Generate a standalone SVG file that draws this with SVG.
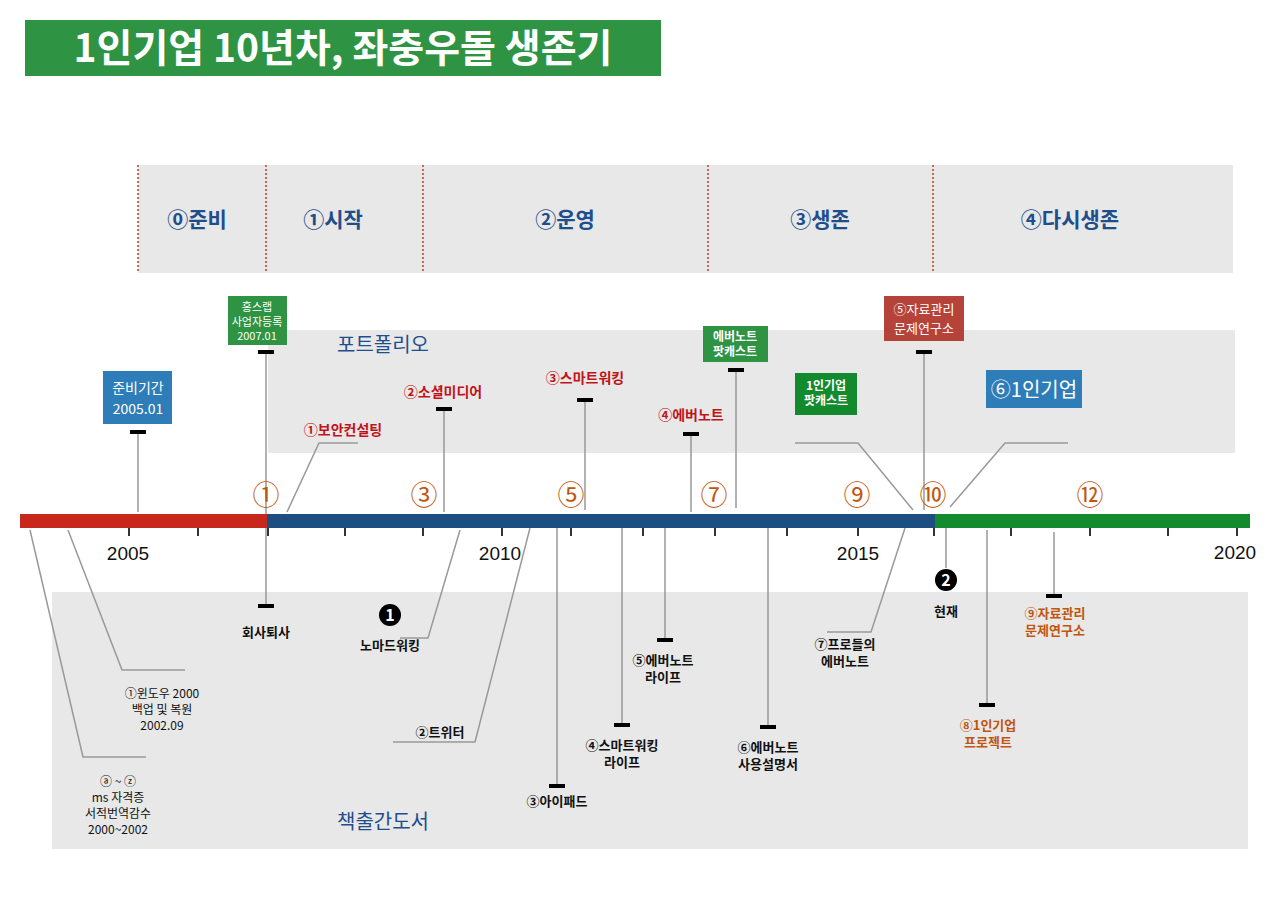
<svg xmlns="http://www.w3.org/2000/svg" width="1280" height="910" viewBox="0 0 1280 910">
<style>
text{font-family:"Noto Sans CJK KR","Noto Sans",sans-serif;text-anchor:middle}
.band{fill:#e8e8e8}
.ph{fill:#1f4e8c;font-size:21px;font-weight:bold}
.sec{fill:#1f4e8c;font-size:20px}
.dash{stroke:#b5432e;stroke-width:1.5;stroke-dasharray:2 2}
.ln{stroke:#999;stroke-width:1.5;fill:none}
.cap{fill:#000}
.num{fill:#c0560f;font-size:27px}
.yr{fill:#111;font-size:19px;font-family:"Liberation Sans",sans-serif}
.tk{stroke:#333;stroke-width:2}
.red{fill:#c0141a;font-size:14px;font-weight:bold}
.blk{fill:#111;font-size:13px;font-weight:bold}
.sm{fill:#111;font-size:12px}
.org{fill:#c0560f;font-size:13px;font-weight:bold}
.bw{fill:#fff;font-size:12px}
.bw11{fill:#fff;font-size:11px}
.bw14{fill:#fff;font-size:14px}
</style>
<rect width="1280" height="910" fill="#fff"/>
<g id="title"><rect x="25" y="20" width="636" height="56" fill="#2e9443"/><text x="343" y="62" fill="#fff" style="font-size:39px;font-weight:bold">1인기업 10년차, 좌충우돌 생존기</text></g>
<g id="phases">
<rect class="band" x="138" y="165" width="1095" height="108"/>
<line class="dash" x1="138" y1="165" x2="138" y2="273"/><line class="dash" x1="266" y1="165" x2="266" y2="273"/><line class="dash" x1="423" y1="165" x2="423" y2="273"/><line class="dash" x1="708" y1="165" x2="708" y2="273"/><line class="dash" x1="933" y1="165" x2="933" y2="273"/>
<text class="ph" x="197" y="227">⓪준비</text><text class="ph" x="333" y="227">①시작</text><text class="ph" x="565" y="227">②운영</text><text class="ph" x="820" y="227">③생존</text><text class="ph" x="1070" y="227">④다시생존</text>
</g>
<g id="portfolio"><rect class="band" x="268" y="330" width="967" height="123"/><text class="sec" x="383" y="352">포트폴리오</text></g>
<g id="books"><rect class="band" x="52" y="592" width="1196" height="257"/><text class="sec" x="383" y="829">책출간도서</text></g>
<g id="connectors">
<line class="ln" x1="138" y1="432" x2="138" y2="512"/>
<line class="ln" x1="266" y1="352" x2="266" y2="606"/>
<polyline class="ln" points="287,512 319,443 358,443"/>
<line class="ln" x1="444" y1="409" x2="444" y2="512"/>
<line class="ln" x1="585" y1="400" x2="585" y2="510"/>
<line class="ln" x1="691" y1="434" x2="691" y2="512"/>
<line class="ln" x1="736" y1="370" x2="736" y2="508"/>
<polyline class="ln" points="795,443 858,443 913,510"/>
<line class="ln" x1="924" y1="352" x2="924" y2="510"/>
<polyline class="ln" points="1068,443 1005,443 950,507"/>
<polyline class="ln" points="460,530 428,638 400,638"/>
<polyline class="ln" points="68,530 122,670 185,670"/>
<polyline class="ln" points="30,530 83,757 146,757"/>
<polyline class="ln" points="530,528 475,742 393,742"/>
<line class="ln" x1="557" y1="527" x2="557" y2="786"/>
<line class="ln" x1="622" y1="527" x2="622" y2="725"/>
<line class="ln" x1="665" y1="527" x2="665" y2="640"/>
<line class="ln" x1="768" y1="527" x2="768" y2="727"/>
<polyline class="ln" points="905,528 871,632 827,632"/>
<line class="ln" x1="946" y1="527" x2="946" y2="568"/>
<line class="ln" x1="987" y1="530" x2="987" y2="705"/>
<line class="ln" x1="1054" y1="532" x2="1054" y2="596"/>
<g class="cap">
<rect x="130" y="430" width="16" height="4"/><rect x="258" y="350" width="16" height="4"/><rect x="436" y="407" width="16" height="4"/><rect x="577" y="398" width="16" height="4"/><rect x="683" y="432" width="16" height="4"/><rect x="728" y="368" width="16" height="4"/><rect x="916" y="350" width="16" height="4"/>
<rect x="258" y="604" width="16" height="4"/><rect x="549" y="784" width="16" height="4"/><rect x="614" y="723" width="16" height="4"/><rect x="657" y="638" width="16" height="4"/><rect x="760" y="725" width="16" height="4"/><rect x="979" y="703" width="16" height="4"/><rect x="1046" y="594" width="16" height="4"/>
</g>
</g>
<g id="timeline">
<rect x="20" y="514" width="247" height="14" fill="#c8281c"/>
<rect x="267" y="514" width="668" height="14" fill="#1d4e82"/>
<rect x="935" y="514" width="315" height="14" fill="#138a2e"/>
<g class="tk"><line x1="129" y1="528" x2="129" y2="536"/><line x1="198" y1="528" x2="198" y2="536"/><line x1="268" y1="528" x2="268" y2="536"/><line x1="345" y1="528" x2="345" y2="536"/><line x1="423" y1="528" x2="423" y2="536"/><line x1="502" y1="528" x2="502" y2="536"/><line x1="571" y1="528" x2="571" y2="536"/><line x1="643" y1="528" x2="643" y2="536"/><line x1="715" y1="528" x2="715" y2="536"/><line x1="787" y1="528" x2="787" y2="536"/><line x1="858" y1="528" x2="858" y2="536"/><line x1="934" y1="528" x2="934" y2="536"/><line x1="1011" y1="528" x2="1011" y2="536"/><line x1="1090" y1="528" x2="1090" y2="536"/><line x1="1168" y1="528" x2="1168" y2="536"/><line x1="1237" y1="528" x2="1237" y2="536"/></g>
<text class="yr" x="128" y="560">2005</text><text class="yr" x="500" y="560">2010</text><text class="yr" x="858" y="560">2015</text><text class="yr" x="1235" y="559">2020</text>
<text class="num" x="266" y="505">①</text><text class="num" x="424" y="505">③</text><text class="num" x="571" y="505">⑤</text><text class="num" x="714" y="505">⑦</text><text class="num" x="857" y="505">⑨</text><text class="num" x="933" y="505">⑩</text><text class="num" x="1090" y="505">⑫</text>
</g>
<g id="n-prep"><rect x="103" y="371" width="69" height="53" fill="#2e7db8"/><text class="bw14" x="138" y="393">준비기간</text><text class="bw14" x="138" y="414">2005.01</text></g>
<g id="n-hong"><rect x="228" y="296" width="59" height="49" fill="#2e9443"/><text class="bw11" x="257" y="311">홍스랩</text><text class="bw11" x="257" y="326">사업자등록</text><text class="bw11" x="257" y="340">2007.01</text></g>
<g id="n-sec"><text class="red" x="343" y="435">①보안컨설팅</text></g>
<g id="n-social"><text class="red" x="443" y="397">②소셜미디어</text></g>
<g id="n-smart"><text class="red" x="585" y="383">③스마트워킹</text></g>
<g id="n-ever"><text class="red" x="691" y="420">④에버노트</text></g>
<g id="n-evpod"><rect x="703" y="326" width="65" height="36" fill="#2e9443"/><text class="bw" x="735" y="341" style="font-weight:bold">에버노트</text><text class="bw" x="735" y="356" style="font-weight:bold">팟캐스트</text></g>
<g id="n-1pod"><rect x="795" y="373" width="62" height="42" fill="#138a2e"/><text class="bw" x="826" y="390" style="font-weight:bold">1인기업</text><text class="bw" x="826" y="405" style="font-weight:bold">팟캐스트</text></g>
<g id="n-lab"><rect x="884" y="296" width="80" height="45" fill="#b5433a"/><text class="bw" x="924" y="314" style="font-size:13px">⑤자료관리</text><text class="bw" x="924" y="333" style="font-size:13px">문제연구소</text></g>
<g id="n-1biz"><rect x="986" y="370" width="96" height="38" fill="#2e7db8"/><text class="bw" x="1034" y="397" style="font-size:20px">⑥1인기업</text></g>
<g id="n-quit"><text class="blk" x="266" y="637">회사퇴사</text></g>
<g id="n-nomad"><circle cx="390" cy="615" r="11" fill="#000"/><text x="390" y="621" fill="#fff" style="font-size:16px;font-weight:bold">1</text><text class="blk" x="390" y="650">노마드워킹</text></g>
<g id="n-win"><text class="sm" x="162" y="698">①윈도우 2000</text><text class="sm" x="162" y="714">백업 및 복원</text><text class="sm" x="162" y="730">2002.09</text></g>
<g id="n-ms"><text class="sm" x="118" y="786">ⓐ ~ ⓩ</text><text class="sm" x="118" y="802">ms 자격증</text><text class="sm" x="118" y="818">서적번역감수</text><text class="sm" x="118" y="834">2000~2002</text></g>
<g id="n-tw"><text class="blk" x="440" y="737">②트위터</text></g>
<g id="n-ipad"><text class="blk" x="557" y="806">③아이패드</text></g>
<g id="n-swl"><text class="blk" x="622" y="750">④스마트워킹</text><text class="blk" x="622" y="767">라이프</text></g>
<g id="n-evl"><text class="blk" x="663" y="665">⑤에버노트</text><text class="blk" x="663" y="682">라이프</text></g>
<g id="n-evm"><text class="blk" x="768" y="752">⑥에버노트</text><text class="blk" x="768" y="769">사용설명서</text></g>
<g id="n-pro"><text class="blk" x="845" y="649">⑦프로들의</text><text class="blk" x="845" y="666">에버노트</text></g>
<g id="n-now"><circle cx="946" cy="580" r="11" fill="#000"/><text x="946" y="586" fill="#fff" style="font-size:16px;font-weight:bold">2</text><text class="blk" x="946" y="616">현재</text></g>
<g id="n-proj"><text class="org" x="988" y="730">⑧1인기업</text><text class="org" x="988" y="747">프로젝트</text></g>
<g id="n-lab2"><text class="org" x="1055" y="618">⑨자료관리</text><text class="org" x="1055" y="635">문제연구소</text></g>
</svg>
